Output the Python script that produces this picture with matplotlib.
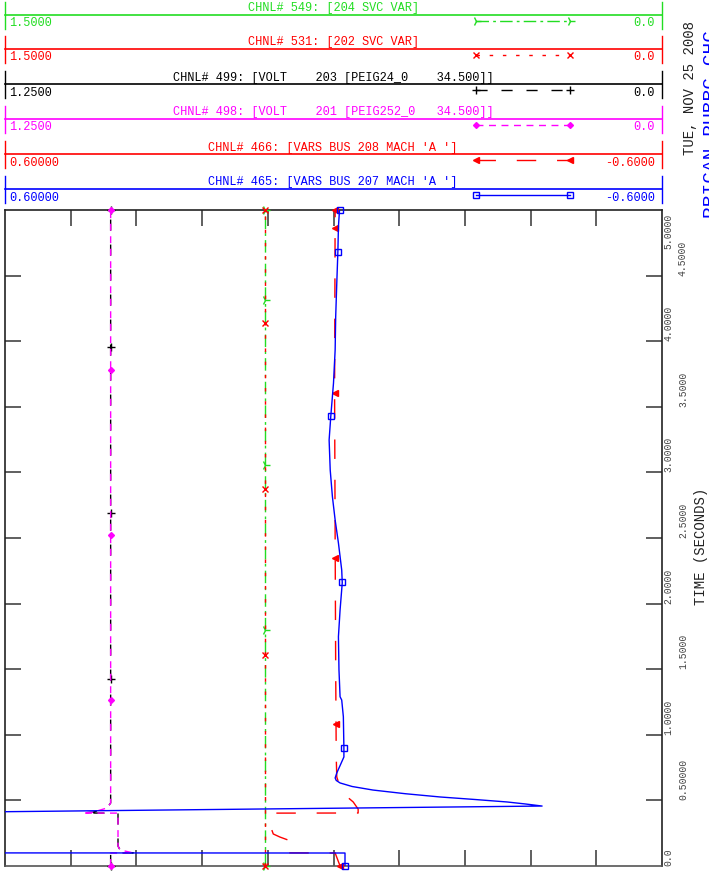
import numpy as np
import matplotlib
matplotlib.use("Agg")
import matplotlib.pyplot as plt
import matplotlib.transforms as mtransforms

plt.rcParams["font.family"] = ["Liberation Mono", "DejaVu Sans Mono"]

W, H = 709, 872

# ---------------- data ----------------
# channel 465: VARS BUS 207 (scale 0.6 .. -0.6)
t465 = [0.0, 0.099, 0.100, 0.405, 0.457, 0.473, 0.488, 0.507, 0.526, 0.551, 0.579, 0.606,
        0.633, 0.652, 0.671, 0.709, 0.831, 0.899, 1.138, 1.265, 1.290, 1.494, 1.748, 1.951,
        2.159, 2.256, 2.462, 2.637, 2.815, 3.018, 3.247, 3.425, 3.681, 3.933, 4.187, 4.444,
        4.682, 4.873, 5.0]
v465 = [-0.021, -0.021, 0.80, 0.80, -0.381, -0.350, -0.317, -0.258, -0.195, -0.131, -0.072,
        -0.034, -0.012, -0.005, -0.003, -0.006, -0.019, -0.019, -0.018, -0.015, -0.012,
        -0.010, -0.009, -0.012, -0.016, -0.015, -0.009, -0.003, 0.002, 0.006, 0.008, 0.005,
        0.000, -0.003, -0.004, -0.006, -0.008, -0.009, -0.011]

# channel 466: VARS BUS 208 (scale 0.6 .. -0.6)
t466 = [0.0, 0.099, 0.100, 0.137, 0.168, 0.198, 0.221, 0.244, 0.3125, 0.403, 0.404,
        0.434, 0.488, 0.541, 0.617, 0.678, 0.831, 1.5, 2.5, 3.6, 5.0]
v466 = [-0.012, -0.003, 0.087, 0.094, 0.092, 0.083, 0.098, 0.110, 0.116, 0.110, -0.045,
        -0.045, -0.036, -0.021, -0.011, -0.006, -0.005, -0.004, -0.003, -0.002, -0.003]

# channels 498 / 499: VOLT (scale 1.25 .. 0.0)
t498 = [0.0, 0.099, 0.100, 0.122, 0.152, 0.198, 0.403, 0.404, 0.410, 0.442, 0.480, 5.0]
v498 = [1.049, 1.049, 1.006, 1.031, 1.035, 1.035, 1.035, 1.102, 1.083, 1.056, 1.049, 1.049]
t499 = [0.0, 0.099, 0.100, 0.122, 0.152, 0.198, 0.403, 0.404, 0.410, 0.442, 0.480, 5.0]
v499 = [1.049, 1.049, 1.006, 1.031, 1.035, 1.035, 1.035, 1.102, 1.083, 1.056, 1.049, 1.049]

# channels 531 / 549: SVC VAR (scale 1.5 .. 0.0)
t531 = [0.0, 0.1, 0.4, 5.0]
v531 = [0.906, 0.906, 0.906, 0.906]
t549 = [0.0, 0.1, 0.4, 5.0]
v549 = [0.906, 0.906, 0.906, 0.906]

# marker times
mk465 = [0.0, 0.899, 2.165, 3.430, 4.680, 5.0]
mk466 = [0.0, 1.082, 2.348, 3.605, 4.863, 5.0]
mk498 = [0.0, 1.265, 2.523, 3.780, 5.0]
mk499 = [0.0, 1.425, 2.690, 3.956, 5.0]
mk531 = [0.0, 1.608, 2.873, 4.139, 5.0]
mk549 = [0.0, 1.799, 3.056, 4.314, 5.0]

time_ticks = [0.0, 0.5, 1.0, 1.5, 2.0, 2.5, 3.0, 3.5, 4.0, 4.5, 5.0]
time_labels = ["0.0", "0.50000", "1.0000", "1.5000", "2.0000", "2.5000",
               "3.0000", "3.5000", "4.0000", "4.5000", "5.0000"]

# header order (top to bottom)
chan_titles = ["CHNL# 549: [204 SVC VAR]",
               "CHNL# 531: [202 SVC VAR]",
               "CHNL# 499: [VOLT    203 [PEIG24_0    34.500]]",
               "CHNL# 498: [VOLT    201 [PEIG252_0   34.500]]",
               "CHNL# 466: [VARS BUS 208 MACH 'A ']",
               "CHNL# 465: [VARS BUS 207 MACH 'A ']"]
chan_max = [1.5, 1.5, 1.25, 1.25, 0.6, 0.6]
chan_min = [0.0, 0.0, 0.0, 0.0, -0.6, -0.6]
chan_max_txt = ["1.5000", "1.5000", "1.2500", "1.2500", "0.60000", "0.60000"]
chan_min_txt = ["0.0", "0.0", "0.0", "0.0", "-0.6000", "-0.6000"]

# ---------------- styles ----------------
GREEN, RED, BLACK, MAG, BLUE = "#22dd22", "#ff0000", "#000000", "#ff00ff", "#0000ff"
styles = [
    dict(color=GREEN, dashes=(9, 3, 2, 3), marker="4", ms=7, mfc=GREEN),
    dict(color=RED, dashes=(2.5, 7), marker="x", ms=4.5, mfc=RED),
    dict(color=BLACK, dashes=(8, 10), marker="+", ms=6, mfc=BLACK),
    dict(color=MAG, dashes=(5, 4), marker="D", ms=3, mfc=MAG),
    dict(color=RED, dashes=(14, 15), marker="<", ms=4.5, mfc=RED),
    dict(color=BLUE, dashes=None, marker="s", ms=5, mfc="none"),
]
series_t = [t549, t531, t499, t498, t466, t465]
series_v = [v549, v531, v499, v498, v466, v465]
series_mk = [mk549, mk531, mk499, mk498, mk466, mk465]

fig = plt.figure(figsize=(W / 100, H / 100), dpi=100)
fig.patch.set_facecolor("white")

x0, x1, ytop, ybot = 5, 662, 210, 866
rect = [x0 / W, (H - ybot) / H, (x1 - x0) / W, (ybot - ytop) / H]

# main frame
ax = fig.add_axes(rect)
ax.set_xlim(0, 10)
ax.set_ylim(0, 5)
ax.set_xticks(np.arange(1, 10))
ax.set_yticks(time_ticks[1:-1])
ax.tick_params(axis="both", which="both", direction="in", length=11.5, width=1.2,
               color="#444444", top=True, bottom=True, left=True, right=True,
               labelbottom=False, labeltop=False, labelleft=False, labelright=False)
for s in ax.spines.values():
    s.set_linewidth(1.2)
    s.set_color("#222222")
ax.spines["bottom"].set_color("#555555")

# channel axes, each with its own value scale
for i in range(6):
    cax = fig.add_axes(rect, sharey=ax)
    cax.set_xlim(chan_max[i], chan_min[i])
    cax.set_ylim(0, 5)
    cax.axis("off")
    cax.patch.set_visible(False)
    st = styles[i]
    kw = dict(color=st["color"], lw=1.0)
    if st["dashes"] is not None:
        kw["dashes"] = st["dashes"]
    cax.plot(series_v[i], series_t[i], **kw)
    mv = np.interp(series_mk[i], series_t[i], series_v[i])
    cax.plot(mv, series_mk[i], ls="none", marker=st["marker"], ms=st["ms"],
             mec=st["color"], mfc=st["mfc"], mew=1.0, clip_on=False)

# overlay in pixel coordinates for header and labels
ov = fig.add_axes([0, 0, 1, 1])
ov.set_xlim(0, W)
ov.set_ylim(H, 0)
ov.axis("off")
ov.patch.set_visible(False)

header_y = [15, 49, 84, 119, 154, 189]
for i, L in enumerate(header_y):
    st = styles[i]
    c = st["color"]
    ov.plot([x0, x1], [L, L], color=c, lw=1.2)
    ov.plot([x0, x0], [L - 13, L + 14], color=c, lw=1.0)
    ov.plot([x1, x1], [L - 13, L + 14], color=c, lw=1.0)
    ov.text(333, L - 6.5, chan_titles[i], ha="center", va="center", fontsize=8.6, color=c)
    ov.text(9, L + 8.5, chan_max_txt[i], ha="left", va="center", fontsize=8.6, color=c)
    ov.text(655, L + 8.5, chan_min_txt[i], ha="right", va="center", fontsize=8.6, color=c)
    kw = dict(color=c, lw=1.0)
    if st["dashes"] is not None:
        kw["dashes"] = st["dashes"]
    ov.plot([476, 570], [L + 6, L + 6], marker=st["marker"], ms=st["ms"],
            mec=c, mfc=st["mfc"], mew=1.0, **kw)

# time tick labels (rotated) on the right
trans = mtransforms.blended_transform_factory(ov.transData, ax.transData)
for k, (tv, lab) in enumerate(zip(time_ticks, time_labels)):
    xcol = 668 if k % 2 == 0 else 683
    if k == len(time_ticks) - 1:
        ov.text(xcol, tv - 0.03, lab, rotation=90, ha="center", va="top",
                fontsize=7, color="#444444", transform=trans)
    else:
        ov.text(xcol, tv, lab, rotation=90, ha="center", va="bottom",
                fontsize=7, color="#444444", transform=trans)

ov.text(690, 88, "TUE, NOV 25 2008", rotation=90, ha="center", va="center",
        fontsize=10, color="#222222")
ov.text(701, 546, "TIME (SECONDS)", rotation=90, ha="center", va="center",
        fontsize=10, color="#222222")
ov.text(703, 218, "PRIGAN PUBRG CHG", rotation=90, ha="left", va="bottom",
        fontsize=14, color=BLUE)

fig.savefig("out.png", dpi=100)
